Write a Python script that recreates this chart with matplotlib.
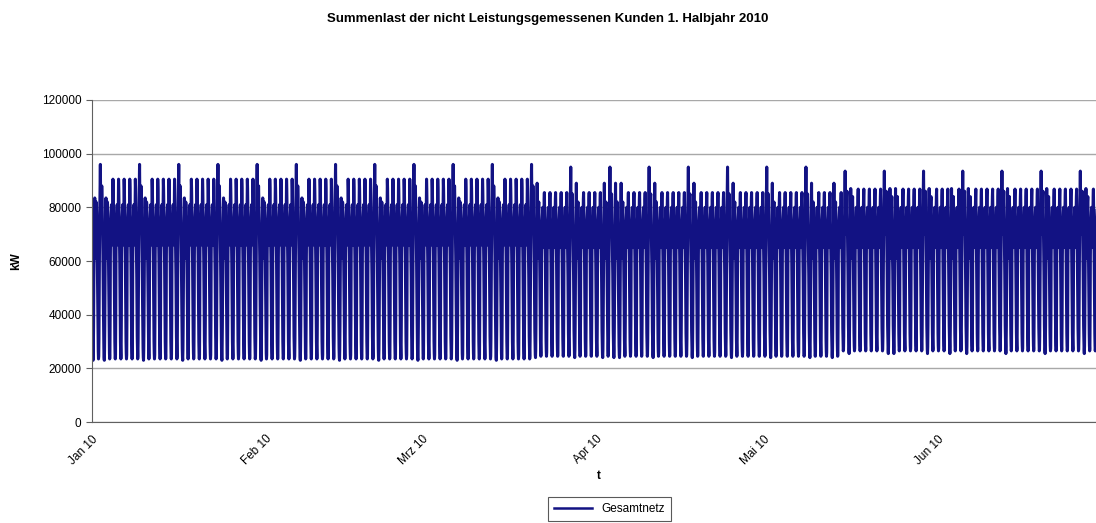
import pandas as pd
import matplotlib.pyplot as plt

# hourly load profiles (kW), per season and day type
winter_weekday = [50000, 39000, 30000, 25500, 23500, 25000, 38000, 62000, 72000, 75000, 77000, 79000,
                  81000, 77000, 70000, 66000, 71000, 80000, 90500, 87000, 81000, 76000, 70000, 61000]
winter_saturday = [54000, 42000, 32000, 26500, 23500, 24500, 31000, 47000, 64000, 75000, 82000, 90000,
                   96000, 85000, 76000, 71000, 73000, 80000, 88000, 84000, 79000, 75000, 69000, 62000]
winter_sunday = [54000, 43000, 33000, 27500, 24000, 23000, 27000, 36000, 52000, 65000, 74000, 80000,
                 83500, 76000, 67000, 61000, 66000, 75000, 82000, 81000, 78000, 73000, 68000, 59000]

trans_weekday = [51000, 40000, 31000, 26500, 24500, 26000, 39000, 62000, 71000, 74000, 76000, 78000,
                 80000, 76000, 69000, 65000, 69000, 76000, 83000, 85500, 80000, 76000, 70000, 61000]
trans_saturday = [54000, 43000, 33000, 27500, 24500, 25000, 31000, 47000, 64000, 74000, 81000, 89000,
                  95000, 85000, 76000, 70000, 71000, 77000, 84000, 85000, 79000, 75000, 69000, 62000]
trans_sunday = [55000, 44000, 34000, 28500, 25000, 24000, 27000, 36000, 52000, 65000, 74000, 82000,
                89000, 77000, 67000, 61000, 65000, 73000, 80000, 82000, 78000, 73000, 68000, 60000]

summer_weekday = [53000, 42000, 33000, 28500, 26500, 27500, 40000, 62000, 70000, 73000, 75000, 78000,
                  80000, 75000, 69000, 65000, 68000, 74000, 79000, 84000, 86800, 80000, 72000, 62000]
summer_saturday = [55000, 44000, 35000, 29500, 26500, 27000, 32000, 47000, 63000, 73000, 80000, 88000,
                   93500, 84000, 75000, 70000, 70000, 75000, 80000, 84000, 86000, 79000, 72000, 63000]
summer_sunday = [56000, 45000, 36000, 30500, 27000, 25500, 28000, 36000, 52000, 64000, 73000, 81000,
                 87000, 77000, 67000, 61000, 64000, 71000, 77000, 82000, 84000, 78000, 71000, 61000]

holidays = ["2010-01-01", "2010-04-02", "2010-04-05", "2010-05-13", "2010-05-24", "2010-06-03"]
winter_end = "2010-03-20"
summer_start = "2010-05-15"

month_labels = ["Jan 10", "Feb 10", "Mrz 10", "Apr 10", "Mai 10", "Jun 10"]

profiles = {
    "winter": (winter_weekday, winter_saturday, winter_sunday),
    "trans": (trans_weekday, trans_saturday, trans_sunday),
    "summer": (summer_weekday, summer_saturday, summer_sunday),
}

days = pd.date_range("2010-01-01", "2010-06-30", freq="D")
hol = set(pd.to_datetime(holidays))
load = []
for d in days:
    if d <= pd.Timestamp(winter_end):
        season = "winter"
    elif d < pd.Timestamp(summer_start):
        season = "trans"
    else:
        season = "summer"
    wk, sa, su = profiles[season]
    if d in hol or d.weekday() == 6:
        load += su
    elif d.weekday() == 5:
        load += sa
    else:
        load += wk
times = pd.date_range("2010-01-01", periods=len(load), freq="h")

plt.rcParams['font.family'] = ['Liberation Sans', 'DejaVu Sans']

fig = plt.figure(figsize=(10.96, 5.23), dpi=100)
ax = fig.add_axes([0.0839, 0.1931, 0.9248, 0.6157])

ax.plot(times, load, color='#121283', linewidth=2.2, label='Gesamtnetz')

ax.set_ylim(0, 120000)
ax.set_yticks(range(0, 120001, 20000))
ax.set_xlim(pd.Timestamp("2010-01-01"), pd.Timestamp("2010-07-01"))
ax.grid(axis='y', color='#a8a8a8', linewidth=1.0)
ax.set_axisbelow(True)
for s in ['top', 'right']:
    ax.spines[s].set_visible(False)
for s in ['left', 'bottom']:
    ax.spines[s].set_color('#606060')

month_ticks = pd.date_range("2010-01-01", periods=len(month_labels), freq="MS")
ax.set_xticks(month_ticks)
ax.set_xticklabels(month_labels, rotation=45, ha='right', rotation_mode='anchor')
ax.tick_params(axis='y', labelsize=8.5, length=4, color='#606060')
ax.tick_params(axis='x', labelsize=8.5, length=0, pad=8)

ax.set_ylabel('kW', fontsize=8.5, fontweight='bold', labelpad=14)
ax.set_xlabel('t', fontsize=8.5, fontweight='bold', labelpad=2)

fig.suptitle('Summenlast der nicht Leistungsgemessenen Kunden 1. Halbjahr 2010',
             fontsize=9.5, fontweight='bold', x=0.5, y=0.975)

leg = fig.legend(loc='lower center', bbox_to_anchor=(0.556, -0.008), fontsize=8.5, frameon=True,
                 fancybox=False, edgecolor='#303030', handlelength=3.2, borderpad=0.5)
leg.get_frame().set_linewidth(0.8)
for h in leg.get_lines():
    h.set_linewidth(1.8)

fig.savefig('out.png', dpi=100)
